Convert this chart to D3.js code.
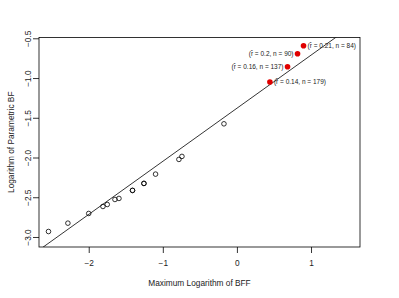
<!DOCTYPE html>
<html><head><meta charset="utf-8">
<script src="https://cdn.jsdelivr.net/npm/d3@7"></script>
<style>body{margin:0;background:#fff}svg{display:block}text{font-family:"Liberation Sans",Arial,sans-serif}</style>
</head><body><svg id="c" width="399" height="298"></svg>
<script>
// Black open points: log BFF (x) vs log parametric BF (y)
const bffX = [-2.543,-2.281,-2.0,-1.808,-1.750,-1.646,-1.592,-1.409,-1.409,-1.255,-1.255,-1.098,-0.783,-0.742,-0.175];
const parY = [-2.931,-2.826,-2.704,-2.616,-2.591,-2.528,-2.515,-2.414,-2.414,-2.326,-2.326,-2.209,-2.024,-1.986,-1.576];
// Highlighted (red) points
const redX = [0.899, 0.818, 0.683, 0.445];
const redY = [-0.593, -0.694, -0.858, -1.050];
const redR = ["0.21", "0.2", "0.16", "0.14"];
const redN = ["84", "90", "137", "179"];
const redSide = ["right", "left", "left", "right"];
// Fitted line
const lineIntercept = -1.38;
const lineSlope = 0.668;
const xTicks = [-2, -1, 0, 1];
const yTicks = [-3.0, -2.5, -2.0, -1.5, -1.0, -0.5];
const xLabel = "Maximum Logarithm of BFF";
const yLabel = "Logarithm of Parametric BF";

const svg = d3.select("#c");
const L = 39, R = 360, T = 37.5, B = 247;
const x = d3.scaleLinear().domain([-2.671, 1.661]).range([L, R]);
const y = d3.scaleLinear().domain([-3.126, -0.49]).range([B, T]);
const TXT = "#222";

const gx = svg.append("g").attr("transform", `translate(0,${B})`)
  .call(d3.axisBottom(x).tickValues(xTicks).tickSize(6).tickPadding(7).tickFormat(d => d3.format("")(d).replace("-", "\u2212")));
const gy = svg.append("g").attr("transform", `translate(${L},0)`)
  .call(d3.axisLeft(y).tickValues(yTicks).tickSize(6).tickPadding(2).tickFormat(d => d3.format(".1f")(d).replace("-", "\u2212")));
[gx, gy].forEach(g => {
  g.select(".domain").remove();
  g.selectAll("line").attr("stroke", "#000").attr("stroke-width", 0.8);
  g.selectAll("text").attr("font-size", 8.3).attr("fill", TXT).style("font-family", "Liberation Sans, Arial, sans-serif");
});
gy.selectAll(".tick text").attr("text-anchor", "middle").attr("dy", 0)
  .attr("transform", "translate(-8,0) rotate(-90)").attr("x", 0);

// clip for line
svg.append("clipPath").attr("id", "clp").append("rect").attr("x", L).attr("y", T).attr("width", R - L).attr("height", B - T);
const x0 = x.domain()[0], x1 = x.domain()[1];
svg.append("line").attr("clip-path", "url(#clp)")
  .attr("x1", x(x0)).attr("y1", y(lineIntercept + lineSlope * x0))
  .attr("x2", x(x1)).attr("y2", y(lineIntercept + lineSlope * x1))
  .attr("stroke", "#000").attr("stroke-width", 0.8);

svg.append("rect").attr("x", L).attr("y", T).attr("width", R - L).attr("height", B - T)
  .attr("fill", "none").attr("stroke", "#000").attr("stroke-width", 0.8);

svg.append("g").selectAll("circle").data(bffX).join("circle")
  .attr("cx", (d) => x(d)).attr("cy", (d, i) => y(parY[i])).attr("r", 2.3)
  .attr("fill", "none").attr("stroke", "#000").attr("stroke-width", 0.8);

svg.append("g").selectAll("circle").data(redX).join("circle")
  .attr("cx", d => x(d)).attr("cy", (d, i) => y(redY[i])).attr("r", 2.8)
  .attr("fill", "#e00000");

const lab = svg.append("g").selectAll("text").data(redX).join("text")
  .attr("x", (d, i) => x(d) + (redSide[i] === "right" ? 4 : -4))
  .attr("y", (d, i) => y(redY[i]))
  .attr("dy", "0.35em")
  .attr("text-anchor", (d, i) => redSide[i] === "right" ? "start" : "end")
  .attr("font-size", 6.5).attr("fill", TXT);
lab.each(function(d, i){
  d3.select(this).append("tspan").text("(r\u0302 = " + redR[i] + ", n = " + redN[i] + ")");
});

svg.append("text").attr("x", (L + R) / 2).attr("y", 286).attr("text-anchor", "middle")
  .attr("font-size", 8.3).attr("fill", TXT).text(xLabel);
svg.append("text").attr("transform", `translate(14,${(T + B) / 2}) rotate(-90)`).attr("text-anchor", "middle")
  .attr("font-size", 8.3).attr("fill", TXT).text(yLabel);
</script></body></html>
